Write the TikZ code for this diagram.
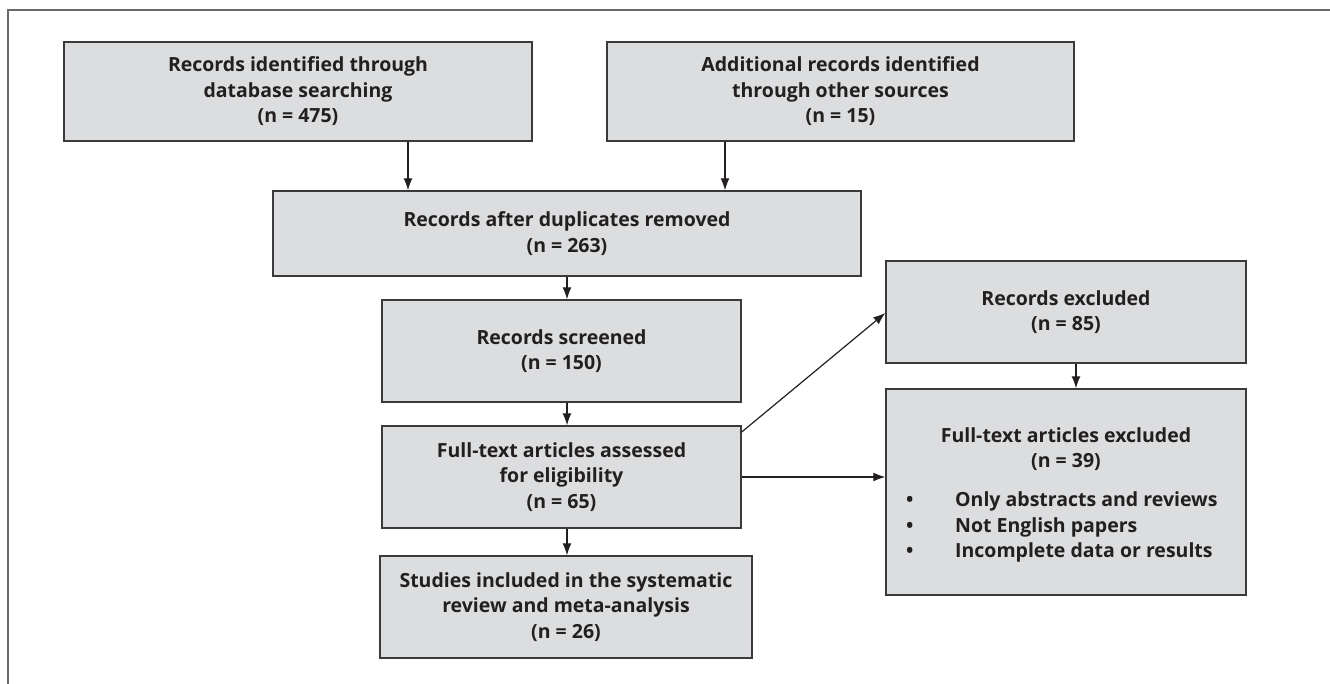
\documentclass[tikz,border=0pt]{standalone}
\usepackage{fontspec}
\setmainfont{Open Sans}
\usetikzlibrary{arrows.meta}
\definecolor{boxfill}{HTML}{DCDDDF}
\definecolor{boxline}{HTML}{3A3A3C}
\definecolor{frameline}{HTML}{6A6A6A}
\definecolor{txt}{HTML}{231F20}
\begin{document}
\begin{tikzpicture}[x=1pt,y=-1pt,
  box/.style={draw=boxline, fill=boxfill, line width=1.4pt, inner sep=0pt, align=center,
    text=txt, font=\fontsize{19.5}{25.5}\selectfont\bfseries},
  lbl/.style={inner sep=0pt, align=center, text=txt, font=\fontsize{19.5}{25.5}\selectfont\bfseries},
  arr/.style={-{Latex[length=12pt,width=9pt]}, line width=1.2pt, draw=txt}]
\useasboundingbox (0,0) rectangle (1330,684);
% frame
\coordinate (fA) at (8,684);
\coordinate (fB) at (8,10);
\coordinate (fC) at (1330,10);
\draw[frameline, line width=1.5pt] (fA) -- (fB) -- (fC);
% boxes
\node[box, minimum width=468pt, minimum height=99pt] (b1) at (298,91.5)
  {Records identified through\\database searching\\(n = 475)};
\node[box, minimum width=467pt, minimum height=99pt] (b2) at (840.5,91.5)
  {Additional records identified\\through other sources\\(n = 15)};
\node[box, minimum width=588pt, minimum height=85pt] (b3) at (567,233.5)
  {Records after duplicates removed\\(n = 263)};
\node[box, minimum width=359pt, minimum height=102pt] (b4) at (561.5,351)
  {Records screened\\(n = 150)};
\node[box, minimum width=359pt, minimum height=102pt] (b5) at (561.5,477)
  {Full-text articles assessed\\for eligibility\\(n = 65)};
\node[box, minimum width=372pt, minimum height=102pt] (b6) at (566,607)
  {Studies included in the systematic\\review and meta-analysis\\(n = 26)};
\node[box, minimum width=360pt, minimum height=102pt] (b7) at (1066,312)
  {Records excluded\\(n = 85)};
\node[box, minimum width=360pt, minimum height=206pt] (b8) at (1066,492) {};
\node[lbl] (b8h) at (1066,449) {Full-text articles excluded\\(n = 39)};
\node[lbl, align=left, anchor=west] (b8l) at (906,527)
  {\makebox[49pt][l]{\textbullet}Only abstracts and reviews\\
   \makebox[49pt][l]{\textbullet}Not English papers\\
   \makebox[49pt][l]{\textbullet}Incomplete data or results};
% connectors
\draw[arr] (b1.south -| 408,0) -- (b3.north -| 408,0);
\draw[arr] (b2.south -| 725,0) -- (b3.north -| 725,0);
\draw[arr] (b3.south -| 567,0) -- (b4.north -| 567,0);
\draw[arr] (b4.south -| 567,0) -- (b5.north -| 567,0);
\draw[arr] (b5.south -| 567,0) -- (b6.north -| 567,0);
\draw[arr] (b5.east |- 0,432) -- (b7.west |- 0,313);
\draw[arr] (b5.east |- 0,477) -- (b8.west |- 0,477);
\draw[arr] (b7.south -| 1076,0) -- (b8.north -| 1076,0);
\end{tikzpicture}
\end{document}
